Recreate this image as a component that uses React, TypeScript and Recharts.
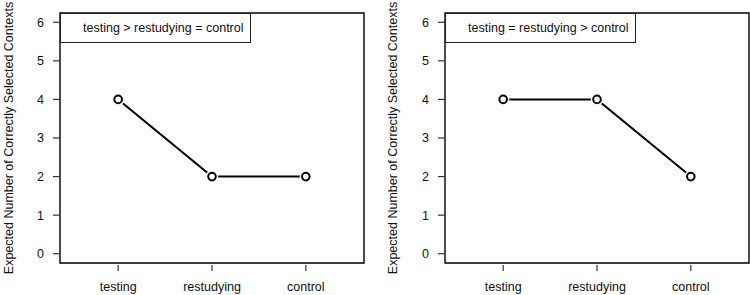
import React from 'react';
import { LineChart, Line, XAxis, YAxis, ReferenceArea } from 'recharts';

// Conditions along the x axis, one position each
const conditions = ['testing', 'restudying', 'control'];
const conditionPositions = [1, 2, 3];

// Expected number of correctly selected contexts per condition
const scenarioA = [4, 2, 2];
const scenarioB = [4, 4, 2];

const scenarioALabel = 'testing > restudying = control';
const scenarioBLabel = 'testing = restudying > control';

const yTicks = [0, 1, 2, 3, 4, 5, 6];
const xDomain: [number, number] = [0.38, 3.62];
const yDomain: [number, number] = [-0.24, 6.24];

const yTitle = 'Expected Number of Correctly Selected Contexts';
const FONT = '"Liberation Sans", Arial, Helvetica, sans-serif';
const FS = 12.5;

const buildRows = (values: number[]) =>
  conditionPositions.map((pos, i) => ({ pos, value: values[i] }));

// Open circle with a small white halo so the connecting line stops short of it
const OpenPoint = (props: any) => {
  const { cx, cy, index } = props;
  if (cx == null || cy == null) return null;
  return (
    <g key={`pt-${index}`}>
      <circle cx={cx} cy={cy} r={6.2} fill="#fff" stroke="none" />
      <circle cx={cx} cy={cy} r={3.8} fill="#fff" stroke="#000" strokeWidth={2} />
    </g>
  );
};

// Bottom tick: short mark set just below the frame, label underneath
const ConditionTick = (props: any) => {
  const { x, y, payload } = props;
  const idx = conditionPositions.indexOf(payload.value);
  return (
    <g>
      <line x1={x} x2={x} y1={y + 2} y2={y + 8} stroke="#333" strokeWidth={1.2} />
      <text x={x} y={y + 27.5} textAnchor="middle" fontSize={FS} fill="#111" fontFamily={FONT}>
        {idx >= 0 ? conditions[idx] : ''}
      </text>
    </g>
  );
};

type PanelProps = {
  values: number[];
  label: string;
  axisWidth: number;
  rightMargin: number;
  titleBaseline: number;
};

const Panel = ({ values, label, axisWidth, rightMargin, titleBaseline }: PanelProps) => {
  const rows = buildRows(values);
  return (
    <div style={{ position: 'relative', width: 375, height: 295 }}>
      <LineChart
        width={375}
        height={295}
        data={rows}
        margin={{ top: 13, right: rightMargin, bottom: 0, left: 0 }}
        style={{ fontFamily: FONT }}
      >
        <XAxis
          dataKey="pos"
          type="number"
          domain={xDomain}
          ticks={conditionPositions}
          allowDataOverflow
          axisLine={false}
          tickLine={false}
          tickSize={0}
          tickMargin={0}
          height={32}
          tick={<ConditionTick />}
          interval={0}
        />
        <YAxis
          type="number"
          domain={yDomain}
          ticks={yTicks}
          allowDataOverflow
          width={axisWidth}
          axisLine={false}
          tickSize={7}
          tickMargin={9}
          tickLine={{ stroke: '#333', strokeWidth: 1.2 }}
          tick={{ fontSize: FS, fill: '#111', fontFamily: FONT }}
          interval={0}
          label={{
            value: yTitle,
            content: (p: any) => {
              const vb = p.viewBox || { x: 0, y: 13, width: axisWidth, height: 250 };
              const cy = vb.y + vb.height / 2;
              return (
                <text
                  transform={`translate(${titleBaseline}, ${cy}) rotate(-90)`}
                  textAnchor="middle"
                  fontSize={FS}
                  fill="#111"
                  fontFamily={FONT}
                >
                  {yTitle}
                </text>
              );
            },
          }}
        />
        <ReferenceArea
          x1={xDomain[0]}
          x2={xDomain[1]}
          y1={yDomain[0]}
          y2={yDomain[1]}
          fill="none"
          fillOpacity={0}
          stroke="#000"
          strokeWidth={1.4}
          ifOverflow="visible"
        />
        <Line
          dataKey="value"
          type="linear"
          stroke="#000"
          strokeWidth={2}
          dot={<OpenPoint />}
          activeDot={false}
          isAnimationActive={false}
        />
      </LineChart>
      <div
        style={{
          position: 'absolute',
          left: axisWidth,
          top: 12.7,
          width: 191,
          height: 30,
          boxSizing: 'border-box',
          border: '1.2px solid #222',
          background: '#fff',
          fontFamily: FONT,
          fontSize: FS,
          color: '#111',
          lineHeight: '28px',
          paddingLeft: 22,
          whiteSpace: 'nowrap',
        }}
      >
        {label}
      </div>
    </div>
  );
};

export default function App() {
  return (
    <div
      style={{
        position: 'absolute',
        left: 0,
        top: 0,
        width: 750,
        height: 295,
        display: 'flex',
        background: '#fff',
      }}
    >
      <Panel values={scenarioA} label={scenarioALabel} axisWidth={60} rightMargin={11} titleBaseline={12.7} />
      <Panel values={scenarioB} label={scenarioBLabel} axisWidth={70} rightMargin={1} titleBaseline={21.7} />
    </div>
  );
}
